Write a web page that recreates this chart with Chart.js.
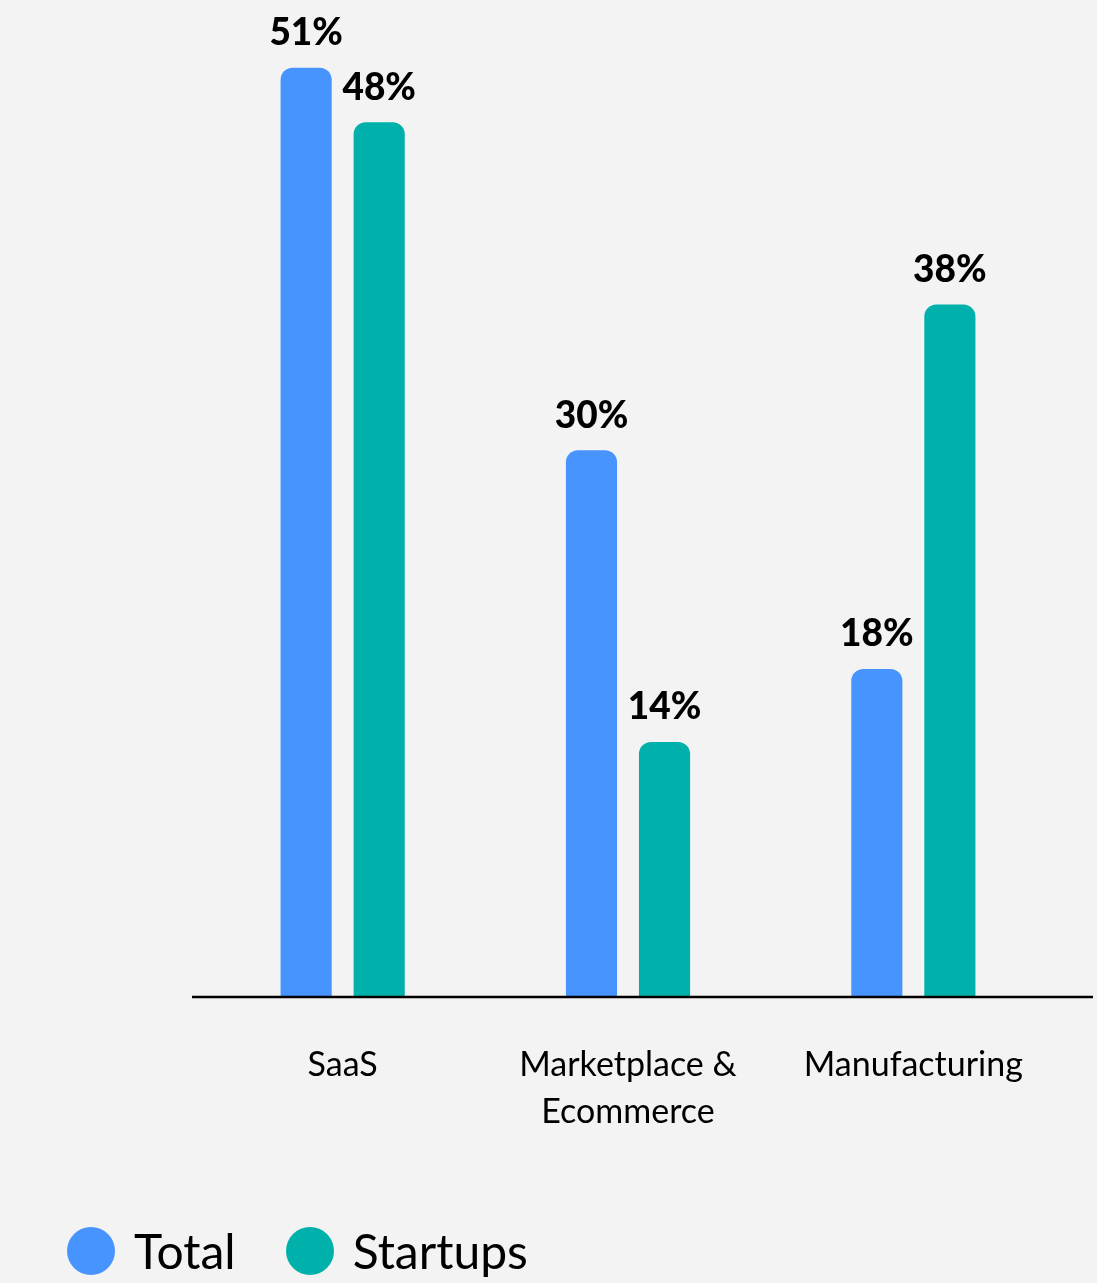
<!DOCTYPE html>
<html>
<head>
<meta charset="utf-8">
<script src="https://cdn.jsdelivr.net/npm/chart.js@4"></script>
<style>
  html, body { margin: 0; padding: 0; background: #f2f3f2; }
  #wrap { position: relative; width: 1097px; height: 1283px; }
  #legend {
    position: absolute; left: 67px; top: 1222px;
    display: flex; align-items: center;
    font-family: Lato, sans-serif; font-size: 48px; color: #000;
  }
  .item { display: flex; align-items: center; margin-right: 50px; }
  .dot { width: 48px; height: 48px; border-radius: 50%; margin-right: 19px; }
</style>
</head>
<body>
<div id="wrap">
  <canvas id="chart" width="1097" height="1283"></canvas>
  <div id="legend"></div>
</div>
<script>
// categories and series
const categories = ["SaaS", ["Marketplace &", "Ecommerce"], "Manufacturing"];
const seriesNames = ["Total", "Startups"];
const totalValues = [51, 30, 18];
const startupValues = [48, 14, 38];
const colors = ["#4894fe", "#00b1ab"];

// percent labels over each bar, plus the base line
const valueLabels = {
  id: "valueLabels",
  afterDatasetsDraw(chart) {
    const ctx = chart.ctx;
    ctx.save();
    ctx.font = "900 37px Lato";
    ctx.fillStyle = "#000";
    ctx.textAlign = "center";
    ctx.textBaseline = "bottom";
    chart.data.datasets.forEach((ds, i) => {
      chart.getDatasetMeta(i).data.forEach((bar, j) => {
        ctx.fillText(ds.data[j] + "%", bar.x, bar.y - 16);
      });
    });
    const y = chart.chartArea.bottom;
    ctx.strokeStyle = "#000";
    ctx.lineWidth = 2.5;
    ctx.beginPath();
    ctx.moveTo(192, y);
    ctx.lineTo(1093, y);
    ctx.stroke();
    ctx.restore();
  }
};

const chart = new Chart(document.getElementById("chart"), {
  type: "bar",
  data: {
    labels: categories,
    datasets: [
      { label: seriesNames[0], data: totalValues, backgroundColor: colors[0] },
      { label: seriesNames[1], data: startupValues, backgroundColor: colors[1] }
    ]
  },
  options: {
    responsive: false,
    animation: false,
    categoryPercentage: 0.512,
    barPercentage: 0.7,
    borderRadius: 12,
    layout: { padding: { left: 200, right: 41, top: 13, bottom: 0 } },
    plugins: { legend: { display: false }, tooltip: { enabled: false } },
    scales: {
      x: {
        grid: { display: false },
        border: { display: false },
        ticks: {
          color: "#000",
          font: { family: "Lato", size: 34, lineHeight: 1.4 },
          padding: 36,
          maxRotation: 0
        },
        afterFit(scale) { scale.height = 286; }
      },
      y: { display: false, min: 0, max: 54 }
    }
  },
  plugins: [valueLabels]
});

// legend built from the datasets
const legend = document.getElementById("legend");
chart.data.datasets.forEach(ds => {
  const item = document.createElement("div");
  item.className = "item";
  item.innerHTML = '<span class="dot" style="background:' + ds.backgroundColor + '"></span>' + ds.label;
  legend.appendChild(item);
});
</script>
</body>
</html>
